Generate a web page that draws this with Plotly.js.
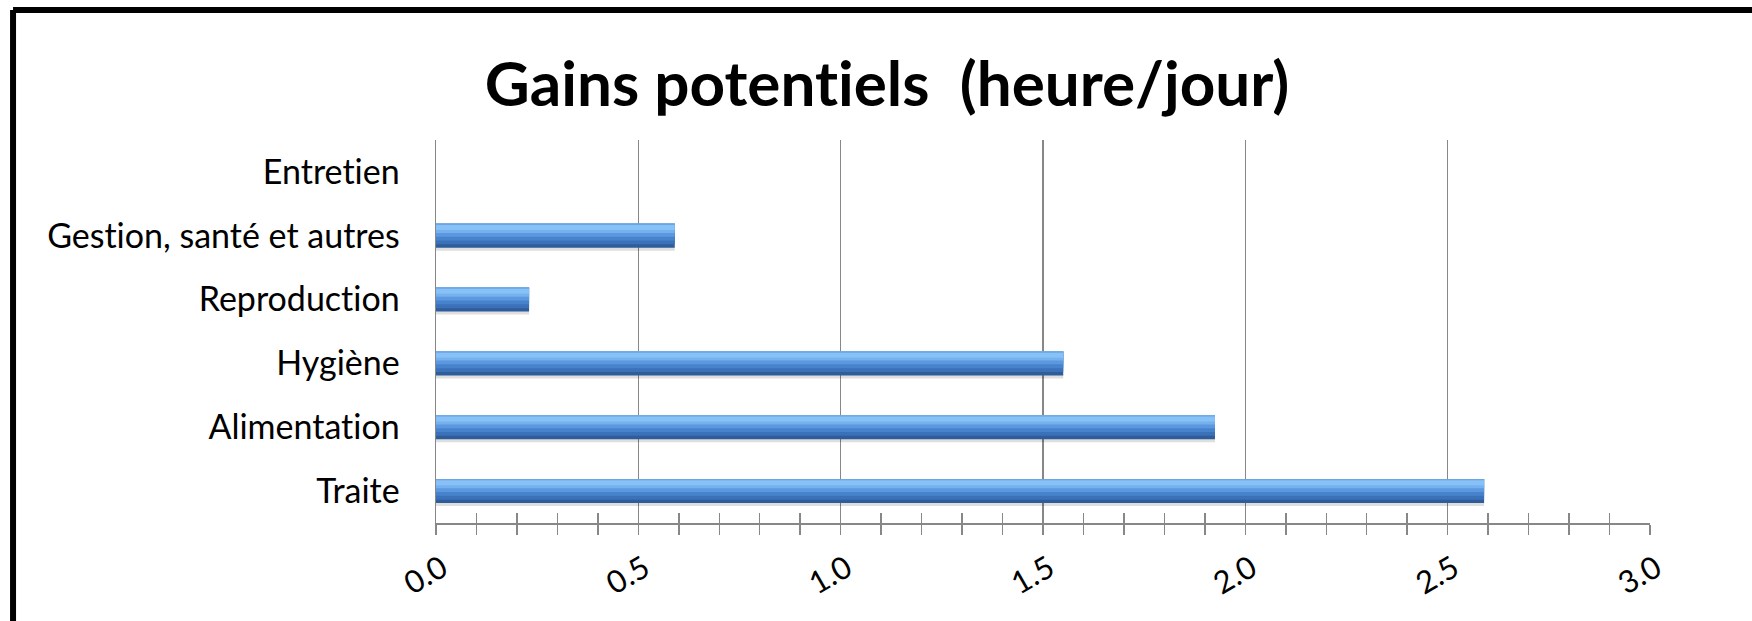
<!DOCTYPE html>
<html>
<head>
<meta charset="utf-8">
<script src="https://cdn.plot.ly/plotly-3.0.1.min.js"></script>
<style>
  html, body { margin: 0; padding: 0; background: #ffffff; }
  #chart { width: 1752px; height: 621px; }
  #chart text { font-variant-ligatures: none; font-feature-settings: "liga" 0, "clig" 0; }
</style>
</head>
<body>
<div id="chart"></div>
<script>
// ---- data (bottom to top, as drawn) ----
const categories = ["Traite", "Alimentation", "Hygiène", "Reproduction", "Gestion, santé et autres", "Entretien"];
const gains = [2.59, 1.925, 1.55, 0.23, 0.59, 0];
const tickValues = [0, 0.5, 1.0, 1.5, 2.0, 2.5, 3.0];
const tickLabels = ["0.0", "0.5", "1.0", "1.5", "2.0", "2.5", "3.0"];
const chartTitle = "Gains potentiels \u00a0(heure/jour)";

// ---- bar shading layers (drawn in order; each covers from its offset upward) ----
const layers = [
  { color: "rgba(0,0,0,0.13)", offset: -0.235, width: 0.07 },
  { color: "#2f5d99", offset: -0.188, width: 0.376 },
  { color: "#3b71b8", offset: -0.135, width: 0.323 },
  { color: "#4783cd", offset: -0.075, width: 0.263 },
  { color: "#5b98df", offset: -0.015, width: 0.203 },
  { color: "#74b1ee", offset: 0.045, width: 0.143 },
  { color: "#88c1f5", offset: 0.090, width: 0.098 },
  { color: "#6aa5e6", offset: 0.168, width: 0.020 }
];

const FONT = "Lato, 'Open Sans', sans-serif";
const GRID = "#878787";

const traces = layers.map(l => ({
  type: "bar",
  orientation: "h",
  x: gains,
  y: categories,
  width: l.width,
  offset: l.offset,
  marker: { color: l.color, line: { width: 0 } },
  hoverinfo: "x+y",
  showlegend: false
}));
// helper (empty) trace for the crossing tick-mark axis
traces.push({ type: "scatter", x: [], y: [], xaxis: "x2", yaxis: "y", showlegend: false });

const layout = {
  width: 1752,
  height: 621,
  margin: { l: 436, r: 102, t: 140, b: 98 },
  paper_bgcolor: "#ffffff",
  plot_bgcolor: "#ffffff",
  barmode: "overlay",
  font: { family: FONT, color: "#000000" },
  title: {
    text: chartTitle,
    font: { family: FONT, size: 62, color: "#000000", weight: "bold" },
    xref: "container", x: 0.5063, xanchor: "center",
    yref: "container", y: 0.8647, yanchor: "middle"
  },
  xaxis: {
    range: [0, 3],
    tickmode: "array",
    tickvals: tickValues,
    ticktext: tickLabels,
    tickangle: -30,
    tickfont: { family: FONT, size: 31, color: "#000000" },
    ticklabelshift: 6,
    ticklabelstandoff: 4,
    ticks: "outside",
    ticklen: 10,
    tickwidth: 1.5,
    tickcolor: GRID,
    minor: { dtick: 0.1, ticks: "outside", ticklen: 10, tickwidth: 1.5, tickcolor: GRID, showgrid: false },
    showgrid: true,
    gridcolor: GRID,
    gridwidth: 1.5,
    zeroline: false,
    showline: true,
    linecolor: GRID,
    linewidth: 1.5,
    fixedrange: true
  },
  xaxis2: {
    overlaying: "x",
    anchor: "y",
    side: "bottom",
    range: [0, 3],
    tickmode: "array",
    tickvals: tickValues,
    ticks: "inside",
    ticklen: 10,
    tickwidth: 1.5,
    tickcolor: GRID,
    minor: { dtick: 0.1, ticks: "inside", ticklen: 10, tickwidth: 1.5, tickcolor: GRID, showgrid: false },
    showticklabels: false,
    showgrid: false,
    zeroline: false,
    showline: false,
    fixedrange: true
  },
  yaxis: {
    type: "category",
    categoryorder: "array",
    categoryarray: categories,
    tickfont: { family: FONT, size: 34, color: "#000000" },
    ticks: "",
    ticklabelstandoff: 28,
    showgrid: false,
    zeroline: false,
    showline: true,
    linecolor: GRID,
    linewidth: 1.5,
    fixedrange: true
  },
  shapes: [
    { type: "line", xref: "paper", yref: "paper", x0: -0.3484, x1: -0.3484, y0: -0.30, y1: 1.3394,
      line: { color: "#000000", width: 6 } },
    { type: "line", xref: "paper", yref: "paper", x0: -0.3484, x1: 1.10, y0: 1.3394, y1: 1.3394,
      line: { color: "#000000", width: 6 } }
  ]
};

Plotly.newPlot("chart", traces, layout, { displayModeBar: false, staticPlot: true });
</script>
</body>
</html>
